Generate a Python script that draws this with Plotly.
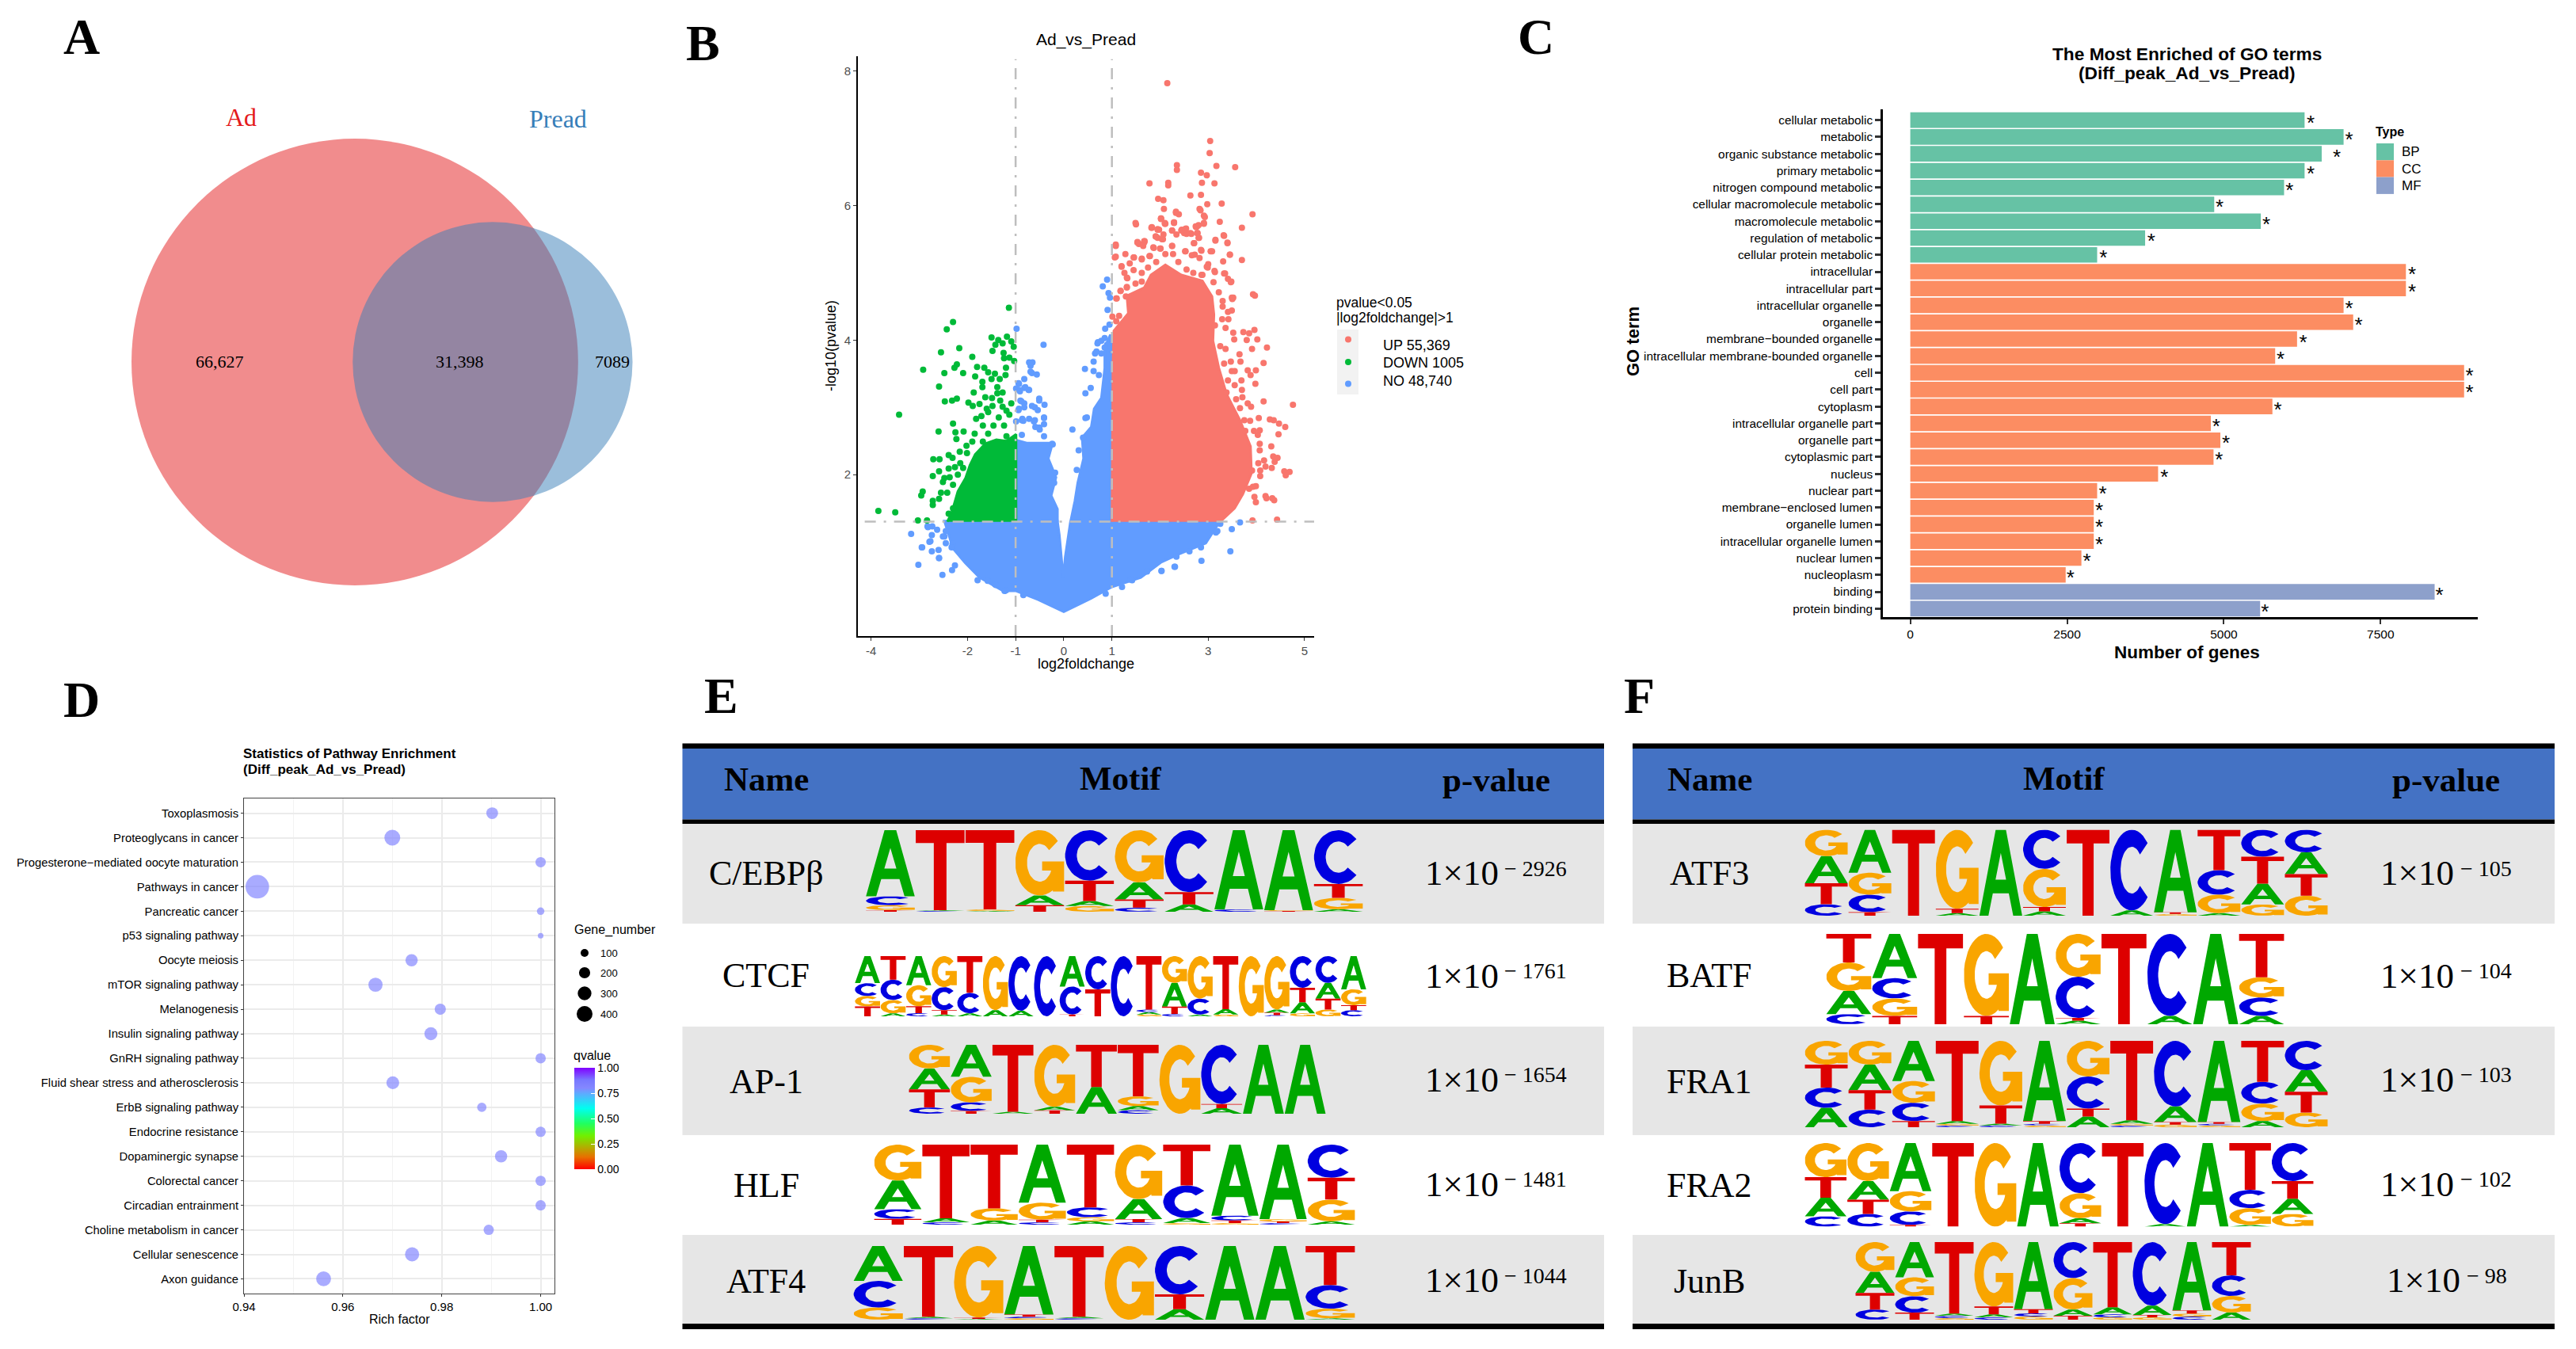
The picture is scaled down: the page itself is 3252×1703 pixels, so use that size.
import numpy as np
import plotly.graph_objects as go

W, H = 3252, 1703
SANS = "Liberation Sans, Arial, sans-serif"
SERIF = "Liberation Serif, Times New Roman, serif"

# ---- A: venn ----
venn_ad_only = 66627
venn_shared = 31398
venn_pread_only = 7089

# ---- B: volcano, outlines of the solid areas and the loose points ----
up_area_x = [1.0, 1.02, 1.04, 1.34, 1.31, 1.67, 1.81, 2.11, 2.44, 2.88, 3.08, 3.12, 3.10, 3.22, 3.38, 3.66, 3.88, 3.90, 3.72, 3.55, 3.25]
up_area_y = [1.30, 3.60, 4.14, 4.40, 4.66, 4.78, 4.97, 5.12, 4.97, 4.88, 4.65, 4.38, 3.99, 3.59, 3.20, 2.81, 2.42, 2.02, 1.71, 1.50, 1.30]
down_area_x = [-0.99, -0.99, -1.19, -1.40, -1.63, -1.84, -1.95, -2.04, -2.20, -2.28, -2.33, -2.42]
down_area_y = [1.30, 2.60, 2.50, 2.52, 2.46, 2.30, 2.14, 1.95, 1.75, 1.55, 1.43, 1.30]
no_low_x = [3.25, 3.10, 2.95, 2.40, 2.03, 1.60, 1.0, 0.57, 0.0, -0.53, -0.99, -1.26, -1.75, -2.05, -2.30, -2.48, -0.13, -0.09, -0.01, 0.03, 0.14]
no_low_y = [1.31, 1.14, 0.98, 0.82, 0.70, 0.47, 0.33, 0.16, -0.04, 0.14, 0.27, 0.27, 0.47, 0.69, 0.90, 1.31, 1.31, 1.10, 0.47, 0.78, 1.31]
no_left_x = [-0.99, -0.96, -0.77, -0.23, -0.32, -0.16, -0.26, -0.13, -0.13]
no_left_y = [1.30, 2.51, 2.47, 2.47, 2.24, 1.96, 1.69, 1.49, 1.30]
no_right_x = [0.14, 0.23, 0.29, 0.35, 0.41, 0.38, 0.57, 0.63, 0.78, 0.85, 0.85, 0.96, 1.0, 1.0]
no_right_y = [1.30, 1.61, 1.88, 2.08, 2.24, 2.55, 2.71, 2.98, 3.14, 3.58, 3.89, 4.07, 4.07, 1.30]

up_x = [2.15, 3.04, 3.03, 2.35, 3.17, 3.56, 2.35, 2.85, 2.97, 1.78, 2.17, 2.17, 2.87, 3.13, 2.63, 2.85, 1.96, 2.07, 3.28, 2.98,
        2.84, 3.92, 2.33, 2.39, 2.91, 2.02, 2.11, 1.50, 2.29, 3.24, 3.70, 1.83, 2.77, 1.98, 3.33, 3.15, 3.40, 1.08, 1.56, 1.67,
        2.50, 1.95, 1.06, 3.70, 3.45, 3.05, 3.97, 3.50,
        1.49, 1.83, 1.95, 2.10, 2.02, 2.29, 2.25, 2.34, 2.45, 2.54, 2.55, 2.65, 2.75, 2.80, 2.91, 2.78, 2.81, 2.71, 3.15, 3.32,
        3.40, 3.45, 3.31, 1.08, 1.08, 1.28, 1.46, 1.62, 1.79, 1.53, 1.68, 1.91, 2.06, 1.87, 2.01, 2.25, 2.53, 2.86, 3.08, 2.72,
        3.00, 3.13, 3.35, 3.48, 1.20, 1.32, 1.18, 1.31, 1.10, 3.52,
        3.93, 3.49, 3.47, 3.41, 3.33, 3.14, 2.97, 2.86, 3.11, 3.22, 3.30, 3.30, 3.49, 3.41, 3.42, 3.29, 3.36, 3.14, 3.52, 3.73,
        3.85, 3.96, 3.54, 3.80, 4.02, 3.36, 3.25, 3.91, 4.22, 3.65, 3.47, 3.67, 4.15, 3.33, 3.49, 3.55, 3.82, 3.99, 3.88, 3.69,
        3.55, 3.98, 3.41, 3.70, 3.38, 4.15, 4.76, 3.71, 3.58, 3.82, 3.89, 3.66, 4.05, 3.75, 3.87, 4.28, 4.36, 4.47, 4.60, 4.46,
        4.07, 3.95, 4.03, 3.77, 4.07, 4.07, 4.31, 4.35, 4.44, 4.38, 4.04, 4.16, 4.19, 4.32, 4.08, 4.08, 4.58, 4.69, 4.61, 3.91,
        3.99, 3.85, 4.19, 4.33, 3.96, 4.21, 4.37, 3.99, 4.43, 3.92, 3.93,
        1.45, 1.62, 1.78, 1.86, 2.00, 2.11, 2.25, 2.27, 2.52, 2.66, 2.82, 2.99, 2.88, 1.20, 1.26, 1.31, 1.37, 1.45, 1.62, 1.75,
        1.92, 2.38, 2.55, 2.69, 1.49, 1.62, 1.31, 1.18, 1.09, 1.29, 1.01, 1.15, 1.09,
        2.08, 2.33, 2.02, 2.10, 2.29, 1.82, 1.95, 1.91, 2.07, 2.04, 2.25, 2.44, 2.52, 2.63, 2.77, 2.80, 2.70, 2.85, 2.82, 2.93,
        2.91, 2.74, 1.53, 1.67, 1.65]
up_y = [7.82, 6.96, 6.78, 6.60, 6.59, 6.57, 6.53, 6.49, 6.45, 6.33, 6.34, 6.30, 6.34, 6.33, 6.15, 6.16, 6.10, 6.08, 6.03, 6.02,
        5.93, 5.87, 5.89, 5.87, 5.85, 5.80, 5.73, 5.72, 5.74, 5.76, 5.67, 5.67, 5.69, 5.64, 5.55, 5.48, 5.44, 5.40, 5.43, 5.45,
        5.59, 5.52, 5.23, 5.19, 5.27, 5.32, 4.66, 4.61,
        5.74, 5.68, 5.65, 5.74, 5.81, 5.75, 5.63, 5.57, 5.64, 5.66, 5.58, 5.58, 5.68, 5.71, 5.74, 5.59, 5.52, 5.44, 5.49, 5.56,
        5.45, 5.27, 5.17, 5.42, 5.24, 5.28, 5.23, 5.21, 5.25, 5.45, 5.47, 5.54, 5.50, 5.37, 5.36, 5.40, 5.32, 5.33, 5.32, 5.27,
        5.13, 5.03, 4.99, 4.87, 5.10, 4.92, 4.73, 4.79, 4.62, 4.63,
        4.68, 4.63, 4.86, 4.91, 4.99, 5.01, 5.09, 4.97, 4.86, 4.71, 4.58, 4.50, 4.44, 4.42, 4.31, 4.31, 4.18, 4.22, 4.11, 4.12,
        4.10, 4.15, 4.01, 4.00, 4.01, 3.87, 3.91, 3.87, 3.89, 3.79, 3.68, 3.68, 3.66, 3.65, 3.54, 3.54, 3.55, 3.55, 3.48, 3.40,
        3.33, 3.35, 3.40, 3.26, 3.22, 3.09, 3.04, 3.15, 3.12, 3.06, 3.01, 2.99, 2.84, 2.81, 2.80, 2.82, 2.81, 2.76, 2.71, 2.60,
        2.66, 2.65, 2.59, 2.65, 2.46, 2.36, 2.42, 2.27, 2.25, 2.19, 2.17, 2.21, 2.12, 2.10, 2.06, 1.98, 2.05, 2.04, 1.99, 2.06,
        1.83, 1.79, 1.68, 1.65, 1.67, 1.65, 1.62, 1.59, 1.33, 1.32, 1.82,
        5.23, 5.20, 5.25, 5.38, 5.36, 5.28, 5.40, 5.28, 5.32, 5.26, 5.22, 5.08, 4.97, 5.09, 5.00, 4.93, 5.14, 5.04, 5.00, 5.08,
        5.16, 5.16, 5.05, 5.00, 4.84, 4.87, 4.78, 4.73, 4.62, 4.65, 4.35, 4.36, 4.28,
        5.95, 5.91, 5.81, 5.73, 5.75, 5.67, 5.64, 5.54, 5.57, 5.50, 5.63, 5.63, 5.65, 5.59, 5.59, 5.52, 5.44, 5.34, 5.95, 5.83,
        5.73, 5.69, 5.46, 5.47, 5.40]
down_x = [-3.85, -3.50, -3.03, -2.84, -1.14,
          -2.30, -2.43, -1.50, -1.18, -1.36, -1.27, -1.09, -1.04, -1.42, -2.17, -2.55, -1.48, -1.25, -1.90, -1.24, -1.13, -1.03, -2.22, -2.27, -2.92,
          -2.48, -2.09, -1.80, -1.65, -1.57, -1.43, -1.20, -1.21, -1.33, -1.50, -1.84, -1.69, -1.69, -2.59, -1.38, -1.87, -1.27, -1.38, -2.22, -2.32,
          -2.47, -1.63, -1.49, -1.32, -1.98, -1.89, -1.75, -1.48, -1.60, -1.09, -1.27, -1.19, -1.57, -1.71, -1.82, -2.30, -1.35, -1.13, -3.42, -2.60,
          -2.25, -2.08, -1.85, -1.68, -1.46, -1.24, -2.23, -1.90, -2.02, -1.57, -1.19, -1.08, -1.68, -2.16, -2.01, -2.39, -2.31, -2.71, -2.58, -2.15,
          -2.09, -2.39, -2.26, -2.59, -2.72, -2.20, -2.37, -2.48, -2.51, -2.30, -2.93, -2.96, -2.55, -2.42, -2.59, -2.72, -2.72, -2.30, -2.39]
down_y = [1.46, 1.44, 1.32, 1.32, 4.48,
          4.27, 4.16, 4.04, 4.05, 4.00, 3.95, 3.98, 3.90, 3.93, 3.88, 3.82, 3.84, 3.81, 3.75, 3.73, 3.74, 3.69, 3.64, 3.59, 3.56,
          3.51, 3.51, 3.60, 3.59, 3.52, 3.50, 3.59, 3.48, 3.42, 3.42, 3.46, 3.38, 3.30, 3.31, 3.30, 3.22, 3.22, 3.21, 3.13, 3.10,
          3.09, 3.15, 3.14, 3.10, 3.07, 3.02, 3.05, 3.02, 2.98, 3.06, 3.01, 2.95, 2.93, 2.87, 2.83, 2.76, 2.85, 2.89, 2.89, 2.64,
          2.63, 2.64, 2.61, 2.73, 2.73, 2.73, 2.53, 2.49, 2.43, 2.61, 2.57, 2.48, 2.49, 2.34, 2.32, 2.29, 2.25, 2.23, 2.23, 2.17,
          2.10, 2.09, 2.11, 2.05, 1.98, 2.00, 1.96, 1.95, 1.89, 1.85, 1.75, 1.69, 1.73, 1.73, 1.64, 1.61, 1.55, 1.50, 1.42]
no_x = [0.90, 0.81, 0.93, 0.96, 0.91, 0.95, 0.86, -0.98, -0.42, 0.70, 0.78, 0.90, 0.65, 0.78, -0.65, -0.69, -0.66, -0.56, 0.44, 0.62,
        0.62, 0.73, -0.93, -0.82, -0.73, -0.93, 0.45, 0.56, -0.51, -0.40, -0.60, -0.93, -0.82, 0.48, -0.41, -0.60, -0.87, 0.18, -0.51, 0.40,
        0.31, 0.27, -0.18, -0.24, -0.20, -2.83, -2.95, -2.59, -2.77, -2.48, -2.31, 3.16, 2.31, 2.03, 1.39, -1.43, -1.20,
        -0.82, -0.94, -0.99, -0.91, -0.80, -0.72, -0.88, -0.82, -0.94, -0.86, -0.72, -0.99, -0.72, -0.69, 0.71, 0.85, 0.85, 0.68,
        -1.79, -1.58, -1.41, -1.23, -0.84, 0.87, 1.21, 1.42, 1.73, 2.03, 2.30, 2.86, 3.46, 2.34, 2.61, 2.85, 3.19, 3.49, 3.66, 3.25,
        -3.17, -3.02, -2.52, -2.32, -2.26, -2.59, -2.74, -2.94, -2.79, -2.74, -2.60, -2.45, -2.51, -2.45, -2.82, -2.73, -2.63, -2.33,
        -0.62, -0.41, -0.41, -0.59, -0.84, -0.87, -0.41, -0.23, -0.50, -0.90, -0.66, -0.51, -0.54, 0.45]
no_y = [4.90, 4.80, 4.70, 4.63, 4.45, 4.23, 4.17, 4.17, 3.93, 3.95, 3.99, 3.93, 3.80, 3.80, 3.67, 3.62, 3.51, 3.49, 3.57, 3.68,
        3.54, 3.48, 3.35, 3.29, 3.26, 3.26, 3.21, 3.29, 3.13, 3.04, 3.00, 2.98, 3.06, 2.85, 2.85, 2.81, 2.81, 2.67, 2.70, 2.55,
        2.36, 2.07, 2.03, 2.46, 1.88, 1.23, 0.92, 0.76, 1.01, 1.08, 0.97, 1.14, 0.63, 0.57, 0.44, 0.37, 0.28,
        3.42, 3.36, 3.28, 3.24, 3.30, 3.26, 3.09, 3.00, 2.96, 2.83, 2.83, 2.79, 3.67, 3.53, 3.97, 4.03, 3.89, 3.83,
        0.43, 0.42, 0.36, 0.27, 0.21, 0.23, 0.33, 0.43, 0.56, 0.57, 0.63, 0.72, 0.86, 0.78, 0.86, 0.92, 1.16, 1.19, 1.29, 1.27,
        1.12, 0.66, 0.51, 0.58, 0.65, 0.76, 0.86, 0.92, 1.00, 1.10, 0.88, 0.98, 1.08, 1.16, 1.22, 1.23, 1.18, 0.92,
        2.79, 2.84, 2.75, 2.71, 2.80, 2.59, 2.57, 2.45, 2.67, 3.10, 3.02, 3.10, 2.96, 2.84]
p_cut = 1.301
fc_cut = 1

# ---- C: GO terms ----
go_terms = ["cellular metabolic", "metabolic", "organic substance metabolic", "primary metabolic", "nitrogen compound metabolic",
            "cellular macromolecule metabolic", "macromolecule metabolic", "regulation of metabolic", "cellular protein metabolic",
            "intracellular", "intracellular part", "intracellular organelle", "organelle", "membrane\u2212bounded organelle",
            "intracellular membrane-bounded organelle", "cell", "cell part", "cytoplasm", "intracellular organelle part",
            "organelle part", "cytoplasmic part", "nucleus", "nuclear part", "membrane\u2212enclosed lumen", "organelle lumen",
            "intracellular organelle lumen", "nuclear lumen", "nucleoplasm", "binding", "protein binding"]
go_types = ["BP"] * 9 + ["CC"] * 19 + ["MF"] * 2
go_counts = [6288, 6910, 6561, 6288, 5961, 4847, 5590, 3745, 2980, 7904, 7904, 6910, 7063, 6168, 5819,
             8832, 8832, 5775, 4793, 4945, 4836, 3952, 2980, 2926, 2926, 2926, 2729, 2478, 8362, 5579]
go_star_x = [6386, 6998, 6801, 6386, 6048, 4934, 5677, 3843, 3079, 8002, 8002, 6998, 7151, 6266, 5906,
             8919, 8919, 5862, 4880, 5033, 4924, 4050, 3068, 3013, 3013, 3013, 2817, 2555, 8439, 5655]
type_colors = {"BP": "#66C2A5", "CC": "#FC8D62", "MF": "#8DA0CB"}

# ---- D: pathways ----
pathways = ["Toxoplasmosis", "Proteoglycans in cancer", "Progesterone\u2212mediated oocyte maturation", "Pathways in cancer",
            "Pancreatic cancer", "p53 signaling pathway", "Oocyte meiosis", "mTOR signaling pathway", "Melanogenesis",
            "Insulin signaling pathway", "GnRH signaling pathway", "Fluid shear stress and atherosclerosis",
            "ErbB signaling pathway", "Endocrine resistance", "Dopaminergic synapse", "Colorectal cancer",
            "Circadian entrainment", "Choline metabolism in cancer", "Cellular senescence", "Axon guidance"]
rich_factor = [0.9902, 0.9700, 1.0, 0.9427, 1.0, 1.0, 0.9739, 0.9666, 0.9797, 0.9778,
               1.0, 0.9701, 0.9881, 1.0, 0.9920, 1.0, 1.0, 0.9895, 0.9740, 0.9561]
gene_number = [110, 200, 85, 440, 45, 25, 120, 160, 100, 135, 85, 130, 70, 85, 120, 85, 85, 85, 160, 175]
qvalue = [0.8] * 20
size_legend = [100, 200, 300, 400]

# ---- E, F: motif tables, each position is listed top letter first, in % of the stack ----
names_e = ["C/EBP\u03b2", "CTCF", "AP-1", "HLF", "ATF4"]
pvals_e = ["2926", "1761", "1654", "1481", "1044"]
names_f = ["ATF3", "BATF", "FRA1", "FRA2", "JunB"]
pvals_f = ["105", "104", "103", "102", "98"]

motif_cebpb = ["A81 C11 G6 T2", "T98 A1 C1", "T97 G2 A1", "G80 A12 T8", "C62 T25 A6 G7",
               "G64 A21 T10 C5", "C76 T15 A9", "A97 C3", "A98 G1 T1", "C66 T17 G14 A3"]
motif_ctcf = ["A44 C21 G17 T16", "T39 C34 G22 A5", "A46 G33 T11 C5", "G50 C37 T7 A3", "T61 C34 A5",
              "G88 A10", "C90 A9", "C98", "A50 C46 T3", "C54 T44", "C98", "T88 C4 A4 G3",
              "G44 A39 T12 C4", "G70 C26 A3", "T88 A9 G3", "G98", "G88 A5 T4 C2",
              "C52 T24 A18 G5", "C44 A26 T18 G11", "A54 G26 T8 C10"]
motif_ap1 = ["G34 A30 T26 C9", "A45 G36 C12 T4", "T97 A3", "G90 A5 T5", "T60 A38",
             "T74 G14 A6 C5", "G98", "C85 T6 A8", "A99", "A99"]
motif_hlf = ["G44 A35 C12 T7", "T92 A5 C3", "T78 G15 A5", "A71 G21 T3 C3", "T76 C12 G5 A4",
             "G68 A25 T4 C3", "T50 C40 A6 G2", "A87 C6 T3 G2", "A93 G3 T2 C2", "C41 T27 G27 A4"]
motif_atf4 = ["A46 C35 G16", "T96 A2 C2", "G97 T2 A1", "A93 T3 C2 G2", "T96 A2 C2",
              "G98", "C65 T20 A14", "A98", "A98", "T53 C32 G13 A2"]
motif_atf3 = ["G30 A31 T24 C13", "A49 G25 C20 T4", "T98", "G92 T5 A3", "A97", "C45 G44 T5 A5",
              "T97", "C92 A6", "A96 T2 G2", "T46 C28 G21 A3", "C31 T31 A24 G13", "C26 A25 T25 G23"]
motif_batf = ["T31 G31 A25 C11", "A48 C22 G19 T9", "T98", "G89 T9", "A98",
              "G47 C45 T3 A4", "T98", "C89 A9", "A97", "T47 G22 C20 A9"]
motif_fra1 = ["G27 T26 C23 A22", "G27 A29 T22 C20", "A46 G25 C21 T7", "T93 A3 G2 C2", "G74 T21 A2 C2",
              "A93 T3 C2 G2", "G40 C36 T9 A12", "T92 A4 G2 C2", "C76 A18 T3 G3", "A94 T2 C2 G2",
              "T47 C25 G20 A7", "C34 A25 T24 G17"]
motif_fra2 = ["G40 T24 A22 C12", "G45 A22 T17 C15", "A57 G24 C16 T2", "T96", "G98", "A96",
              "C60 G30 A6 T4", "T97", "C95 A3", "A97", "T56 C22 G20 A2", "C45 T21 A18 G15"]
motif_junb = ["G38 A27 T21 C13", "A45 G24 C21 T9", "T92 A3 C3 G2", "G83 T10 A4 C3", "A84 T5 C4 G4",
              "C46 G40 A8 T5", "T84 A9 C4 G3", "C82 A12 T3 G3", "A88 T4 G4 C4", "T42 C26 G21 A9"]
letter_colors = {"A": "#00A800", "C": "#0000E0", "G": "#F9A500", "T": "#DD0000"}


def px(x):
    return x / W


def py(y):
    return 1 - y / H


def dom_x(left, right):
    return [px(left), px(right)]


def dom_y(top, bottom):
    return [py(bottom), py(top)]


annotations = []
shapes = []


def note(text, x, y, size, family=SANS, color="black", anchor="center", angle=0):
    # annotation boxes have a small pad, take it off left aligned texts
    if anchor == "left":
        x -= 3
    annotations.append(dict(text=text, x=px(x), y=py(y), xref="paper", yref="paper", showarrow=False,
                            xanchor=anchor, yanchor="middle", textangle=angle,
                            font=dict(size=size, family=family, color=color)))


def rect(x0, y0, x1, y1, color):
    shapes.append(dict(type="rect", xref="paper", yref="paper", x0=px(x0), x1=px(x1), y0=py(y1), y1=py(y0),
                       fillcolor=color, line_width=0, layer="below"))


def dot(cx, cy, d, color):
    shapes.append(dict(type="circle", xref="paper", yref="paper", x0=px(cx - d / 2), x1=px(cx + d / 2),
                       y0=py(cy + d / 2), y1=py(cy - d / 2), fillcolor=color, line_width=0))


def hidden_axis(domain, axrange):
    return dict(domain=domain, range=axrange, visible=False, fixedrange=True)


fig = go.Figure()

# panel letters
for letter, lx, ly in [("A", 103, 46), ("B", 887, 54), ("C", 1939, 46), ("D", 103, 883), ("E", 911, 878), ("F", 2069, 878)]:
    note(f"<b>{letter}</b>", lx, ly, 64, SERIF)

# A: circles, radius from the set size
r_ad = np.sqrt((venn_ad_only + venn_shared) / np.pi)
r_pread = np.sqrt((venn_shared + venn_pread_only) / np.pi)
venn_gap = 109
layout_axes = {
    "xaxis": hidden_axis(dom_x(100, 800), [-218, 220.6]),
    "yaxis": hidden_axis(dom_y(100, 815), [-224.3, 223.7]),
}
shapes.append(dict(type="circle", xref="x", yref="y", x0=-r_ad, x1=r_ad, y0=-r_ad, y1=r_ad,
                   fillcolor="#E41A1C", opacity=0.5, line_width=0))
shapes.append(dict(type="circle", xref="x", yref="y", x0=venn_gap - r_pread, x1=venn_gap + r_pread,
                   y0=-r_pread, y1=r_pread, fillcolor="#377EB8", opacity=0.5, line_width=0))
note("Ad", 304, 148, 32, SERIF, "#E41A1C")
note("Pread", 704, 150, 32, SERIF, "#377EB8")
note(f"{venn_ad_only:,}", 277, 457, 22, SERIF)
note(f"{venn_shared:,}", 580, 457, 22, SERIF)
note(str(venn_pread_only), 773, 457, 22, SERIF)

# B: volcano
UP, DOWN, NO = "#F8766D", "#00BA38", "#619CFF"


def area(xs, ys, color):
    fig.add_trace(go.Scatter(x=xs, y=ys, xaxis="x2", yaxis="y2", mode="lines", fill="toself", fillcolor=color,
                             line=dict(color=color, width=3), hoverinfo="skip", showlegend=False))


for ax, ay in [(no_low_x, no_low_y), (no_left_x, no_left_y), (no_right_x, no_right_y)]:
    area(ax, ay, NO)
fig.add_trace(go.Scatter(x=no_x, y=no_y, xaxis="x2", yaxis="y2", mode="markers", name="NO 48,740",
                         marker=dict(color=NO, size=8), showlegend=False))
area(down_area_x, down_area_y, DOWN)
fig.add_trace(go.Scatter(x=down_x, y=down_y, xaxis="x2", yaxis="y2", mode="markers", name="DOWN 1005",
                         marker=dict(color=DOWN, size=8), showlegend=False))
area(up_area_x, up_area_y, UP)
fig.add_trace(go.Scatter(x=up_x, y=up_y, xaxis="x2", yaxis="y2", mode="markers", name="UP 55,369",
                         marker=dict(color=UP, size=8), showlegend=False))
layout_axes["xaxis2"] = dict(domain=dom_x(1083, 1659), range=[-4.276, 5.2], anchor="y2", showgrid=False, zeroline=False,
                             showline=True, linecolor="black", linewidth=2, ticks="outside", ticklen=4, tickcolor="#333333",
                             tickvals=[-4, -2, -1, 0, 1, 3, 5], ticktext=["-4", "-2", "-1", "0", "1", "3", "5"],
                             tickfont=dict(size=15, family=SANS, color="#4D4D4D"))
layout_axes["yaxis2"] = dict(domain=dom_y(71, 803), range=[-0.4, 8.22], anchor="x2", showgrid=False, zeroline=False,
                             showline=True, linecolor="black", linewidth=2, ticks="outside", ticklen=4, tickcolor="#333333",
                             tickvals=[2, 4, 6, 8], tickfont=dict(size=15, family=SANS, color="#4D4D4D"))
cut_line = dict(color="#BEBEBE", width=2.5, dash="14px,10px,3px,10px")
for v in [-fc_cut, fc_cut]:
    shapes.append(dict(type="line", xref="x2", yref="y2 domain", x0=v, x1=v, y0=0, y1=0.995, line=cut_line))
shapes.append(dict(type="line", xref="x2 domain", yref="y2", x0=0.015, x1=1, y0=p_cut, y1=p_cut, line=cut_line))
note("Ad_vs_Pread", 1371, 50, 21)
note("log2foldchange", 1371, 838, 18)
note("-log10(pvalue)", 1049, 437, 18, angle=-90)
note("pvalue&lt;0.05", 1688, 382, 17.5, anchor="left")
note("|log2foldchange|&gt;1", 1688, 401, 17.5, anchor="left")
rect(1688, 416, 1715, 498, "#F2F2F2")
for label, color, dy, ty in [("UP 55,369", UP, 428.5, 435.6), ("DOWN 1005", DOWN, 457, 458), ("NO 48,740", NO, 484.5, 481)]:
    dot(1702, dy, 8, color)
    note(label, 1747, ty, 18, anchor="left")

# C: GO bars, stars sit on a numeric copy of the row axis so they can be centred on the bars
fig.add_trace(go.Bar(y=go_terms, x=go_counts, orientation="h", xaxis="x3", yaxis="y3", width=0.92,
                     marker=dict(color=[type_colors[t] for t in go_types], line_width=0), showlegend=False))
fig.add_trace(go.Scatter(y=list(range(len(go_terms))), x=go_star_x, xaxis="x3", yaxis="y15", mode="text",
                         text=["*"] * len(go_terms), textposition="middle center",
                         textfont=dict(size=26, family=SANS, color="black"), hoverinfo="skip", showlegend=False))
layout_axes["xaxis3"] = dict(domain=dom_x(2377, 3128), range=[-437, 9050], anchor="y3", showgrid=False, zeroline=False,
                             showline=True, linecolor="black", linewidth=2.5, ticks="outside", ticklen=6, tickwidth=2,
                             tickcolor="#333333", tickvals=[0, 2500, 5000, 7500],
                             tickfont=dict(size=15.5, family=SANS, color="black"))
layout_axes["yaxis3"] = dict(domain=dom_y(138, 779), type="category", categoryorder="array", categoryarray=go_terms,
                             range=[29.5, -0.64], anchor="x3", showgrid=False, zeroline=False, showline=True,
                             linecolor="black", linewidth=2.5, ticks="outside", ticklen=7, tickwidth=2.5, tickcolor="#333333",
                             tickmode="linear", dtick=1, tickfont=dict(size=15.4, family=SANS, color="black"))
layout_axes["yaxis15"] = hidden_axis(dom_y(138, 779), [29.5 - 0.28, -0.64 - 0.28])
layout_axes["yaxis15"].update(overlaying="y3", anchor="x3")
note("<b>The Most Enriched of GO terms</b>", 2761, 68, 22.7)
note("<b>(Diff_peak_Ad_vs_Pread)</b>", 2761, 92, 22.7)
note("<b>Number of genes</b>", 2761, 823, 22.5)
note("<b>GO term</b>", 2062, 431, 22, angle=-90)
note("<b>Type</b>", 3017, 166, 16)
for i, (t, c) in enumerate(type_colors.items()):
    top = 181 + i * 21.3
    rect(3000, top, 3022, top + 21.3, c)
    note(t, 3033, top + 11, 17, anchor="left")

# D: pathway dots
fig.add_trace(go.Scatter(x=rich_factor, y=pathways, xaxis="x4", yaxis="y4", mode="markers", showlegend=False,
                         marker=dict(size=gene_number, sizemode="area", sizeref=1, sizemin=3, color=qvalue, cmin=0, cmax=1,
                                     colorscale=[[0, "#FF0000"], [0.12, "#E87000"], [0.22, "#B0B000"], [0.33, "#70F000"],
                                                 [0.45, "#20FF60"], [0.6, "#00FFF0"], [0.75, "#60A8FF"], [0.8, "#8488FF"],
                                                 [0.88, "#7878FF"], [1, "#8000FF"]],
                                     line_width=0,
                                     colorbar=dict(x=px(725), xanchor="left", y=py(1476), yanchor="bottom", thickness=26,
                                                   lenmode="pixels", len=128, xpad=0, ypad=0, outlinewidth=0,
                                                   tickvals=[0, 0.25, 0.5, 0.75, 1], tickformat=".2f", ticks="inside",
                                                   ticklen=5, tickcolor="white",
                                                   tickfont=dict(size=14, family=SANS, color="black")))))
layout_axes["xaxis4"] = dict(domain=dom_x(308, 700), range=[0.94, 1.0028], anchor="y4", showgrid=True, gridcolor="#EBEBEB",
                             gridwidth=1.5, zeroline=False, showline=True, mirror=True, linecolor="#444444", linewidth=1,
                             ticks="outside", ticklen=3, tickcolor="#333333", tickvals=[0.94, 0.96, 0.98, 1.0], tickformat=".2f",
                             minor=dict(showgrid=True, tick0=0.95, dtick=0.02, gridcolor="#F2F2F2", gridwidth=1),
                             tickfont=dict(size=15, family=SANS, color="black"))
layout_axes["yaxis4"] = dict(domain=dom_y(1008, 1633), type="category", categoryorder="array", categoryarray=pathways,
                             range=[19.6, -0.6], anchor="x4", showgrid=True, gridcolor="#EBEBEB", gridwidth=1.5, zeroline=False,
                             showline=True, mirror=True, linecolor="#444444", linewidth=1, ticks="outside", ticklen=3,
                             tickcolor="#333333", tickmode="linear", dtick=1,
                             tickfont=dict(size=14.8, family=SANS, color="black"))
note("<b>Statistics of Pathway Enrichment</b>", 308, 952, 17, anchor="left")
note("<b>(Diff_peak_Ad_vs_Pread)</b>", 308, 971, 17, anchor="left")
note("Rich factor", 504, 1665, 16)
note("Gene_number", 726, 1174, 16, anchor="left")
for n, ly in zip(size_legend, [1203, 1228, 1254, 1280]):
    dot(738, ly, np.sqrt(n), "black")
    note(str(n), 759, ly, 13, anchor="left")
note("qvalue", 725, 1332, 16, anchor="left")


# E, F: motif logos drawn as filled letters on their own axes
def ring(start, stop, rx=0.26, ry=0.29):
    t = np.radians(np.linspace(start, stop, 36))
    gx = list(0.5 + 0.5 * np.cos(t)) + list(0.5 + rx * np.cos(t[::-1]))
    gy = list(0.5 + 0.5 * np.sin(t)) + list(0.5 + ry * np.sin(t[::-1]))
    return gx, gy


def glyph(letter):
    if letter == "T":
        return [([0, 1, 1, 0.63, 0.63, 0.37, 0.37, 0], [1, 1, 0.84, 0.84, 0, 0, 0.84, 0.84])]
    if letter == "A":
        return [([0, 0.38, 0.52, 0.52, 0.21], [0, 1, 1, 0.78, 0]),
                ([1, 0.79, 0.48, 0.48, 0.62], [0, 0, 0.78, 1, 1]),
                ([0.25, 0.31, 0.69, 0.75], [0.26, 0.42, 0.42, 0.26])]
    if letter == "C":
        return [ring(42, 318)]
    return [ring(42, 345), ([0.55, 0.55, 0.77, 0.77, 1, 1], [0.52, 0.38, 0.38, 0.06, 0.06, 0.52])]


def add_logo(motif, axis_no, left, right, top, bottom):
    paths = {k: ([], []) for k in letter_colors}
    for pos, column in enumerate(motif):
        parts = [(p[0], float(p[1:])) for p in column.split()]
        total = sum(h for _, h in parts)
        y_top = 1.0
        for letter, h in parts:
            h = h / total
            for gx, gy in glyph(letter):
                paths[letter][0].extend([pos + 0.01 + 0.98 * v for v in gx] + [None])
                paths[letter][1].extend([y_top - h + h * v for v in gy] + [None])
            y_top -= h
    for letter, (xs, ys) in paths.items():
        if xs:
            fig.add_trace(go.Scatter(x=xs, y=ys, xaxis=f"x{axis_no}", yaxis=f"y{axis_no}", mode="lines", fill="toself",
                                     fillcolor=letter_colors[letter], line_width=0, hoverinfo="skip", showlegend=False))
    layout_axes[f"xaxis{axis_no}"] = hidden_axis(dom_x(left, right), [0, len(motif)])
    layout_axes[f"yaxis{axis_no}"] = hidden_axis(dom_y(top, bottom), [0, 1])
    layout_axes[f"xaxis{axis_no}"]["anchor"] = f"y{axis_no}"
    layout_axes[f"yaxis{axis_no}"]["anchor"] = f"x{axis_no}"


row_tops = [1040, 1166, 1296, 1433, 1559]
row_bots = [1166, 1296, 1433, 1559, 1671]
row_text_y = [1102, 1231.5, 1365, 1496, 1617]
p_text_y = [1102, 1231.5, 1362.5, 1494.5, 1616]


def add_table(left, right, name_x, motif_x, p_x, names, pvals, base_right, exp_left):
    rect(left, 938.5, right, 945, "black")
    rect(left, 945, right, 1034.6, "#4472C4")
    rect(left, 1034.6, right, 1040, "black")
    for i in [0, 2, 4]:
        rect(left, row_tops[i], right, row_bots[i], "#E6E6E6")
    rect(left, 1671, right, 1678, "black")
    note("<b>Name</b>", name_x, 983, 43, SERIF)
    note("<b>Motif</b>", motif_x, 982, 43, SERIF)
    note("<b>p-value</b>", p_x, 984, 43, SERIF)
    for i, (name, pval, ty, py_) in enumerate(zip(names, pvals, row_text_y, p_text_y)):
        shift = 8 if len(pval) == 2 else 0
        note(name, name_x, ty, 44, SERIF)
        note("1\u00d710", base_right + shift, py_, 45, SERIF, anchor="right")
        note(f"\u2212 {pval}", exp_left + shift, py_ - 6, 28, SERIF, anchor="left")


add_table(861.5, 2025, 967, 1414, 1889, names_e, pvals_e, 1894, 1900)
add_table(2061, 3225, 2158, 2605, 3088, names_f, pvals_f, 3100, 3107)

logo_boxes = [
    (motif_cebpb, 1092.6, 1721, 1048, 1151),
    (motif_ctcf, 1079, 1725, 1207, 1283),
    (motif_ap1, 1147, 1674, 1319, 1406),
    (motif_hlf, 1103, 1711, 1445, 1546),
    (motif_atf4, 1077, 1711, 1573, 1666),
    (motif_atf3, 2278, 2939, 1047.5, 1156),
    (motif_batf, 2305, 2884, 1179, 1293),
    (motif_fra1, 2278, 2939, 1314, 1423),
    (motif_fra2, 2278, 2921, 1443, 1548.5),
    (motif_junb, 2342, 2842, 1568, 1666),
]
for k, (motif, x0, x1, y0, y1) in enumerate(logo_boxes):
    add_logo(motif, k + 5, x0, x1, y0, y1)

fig.update_layout(template="none", width=W, height=H, autosize=False, margin=dict(l=0, r=0, t=0, b=0, pad=0),
                  paper_bgcolor="white", plot_bgcolor="rgba(0,0,0,0)", showlegend=False, hovermode=False,
                  annotations=annotations, shapes=shapes, **layout_axes)

fig.write_html("out.html", config={"displayModeBar": False}, post_script="document.body.style.margin='0';")
